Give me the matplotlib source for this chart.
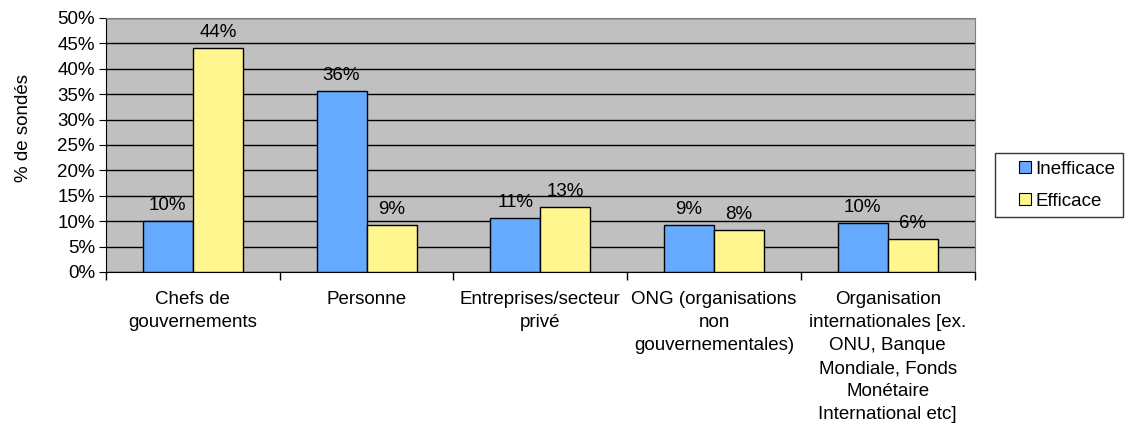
import numpy as np
import matplotlib.pyplot as plt
from matplotlib.lines import Line2D
from matplotlib.ticker import PercentFormatter

plt.rcParams['font.family'] = ['Liberation Sans', 'DejaVu Sans']

categories = ['Chefs de\ngouvernements', 'Personne', 'Entreprises/secteur\nprivé',
              'ONG (organisations\nnon\ngouvernementales)',
              'Organisation\ninternationales [ex.\nONU, Banque\nMondiale, Fonds\nMonétaire\nInternational etc]']
series = ['Inefficace', 'Efficace']
inefficace = [10.1, 35.6, 10.6, 9.2, 9.6]
efficace = [44.0, 9.2, 12.8, 8.3, 6.4]
colors = ['#66aaff', '#fff68f']

fs = 13.5
fig = plt.figure(figsize=(11.28, 4.25), dpi=100)
ax = fig.add_axes([0.094, 0.36, 0.77, 0.598])
ax.set_facecolor('#c0c0c0')

x = np.arange(len(categories))
w = 0.288
b1 = ax.bar(x - w / 2, inefficace, w, color=colors[0], edgecolor='black', lw=1, zorder=3)
b2 = ax.bar(x + w / 2, efficace, w, color=colors[1], edgecolor='black', lw=1, zorder=3)
for bars, vals in ((b1, inefficace), (b2, efficace)):
    for r, v in zip(bars, vals):
        ax.text(r.get_x() + r.get_width() / 2, v + 1.4, f'{round(v):.0f}%',
                ha='center', va='bottom', fontsize=fs, zorder=4)

ax.set_xlim(-0.5, len(categories) - 0.5)
ax.set_ylim(0, 50)
ax.set_yticks(np.arange(0, 51, 5))
ax.yaxis.set_major_formatter(PercentFormatter(decimals=0))
ax.yaxis.grid(True, color='black', lw=1, zorder=0)
ax.set_xticks(x)
ax.set_xticklabels(categories, fontsize=fs, linespacing=1.46)
ax.set_xticks(np.arange(-0.5, len(categories)), minor=True)
ax.tick_params(axis='x', which='major', length=0, pad=14)
ax.tick_params(axis='x', which='minor', length=6, width=1, direction='out')
ax.tick_params(axis='y', labelsize=fs, length=5, direction='out', pad=3)
ax.set_ylabel('% de sondés', fontsize=fs)
ax.yaxis.set_label_coords(-0.085, 0.567)
for s in ('top', 'right'):
    ax.spines[s].set_color('#808080')

handles = [Line2D([], [], ls='', marker='s', markersize=8, markerfacecolor=c,
                  markeredgecolor='black', markeredgewidth=0.8) for c in colors]
leg = ax.legend(handles, series, loc='upper left', bbox_to_anchor=(1.024, 0.4685), fontsize=fs,
                frameon=True, fancybox=False, edgecolor='black', handlelength=2.35,
                handletextpad=-0.62, borderpad=0.4, labelspacing=0.8, borderaxespad=0)
leg.get_frame().set_linewidth(1)

fig.savefig('out.png', dpi=100)
